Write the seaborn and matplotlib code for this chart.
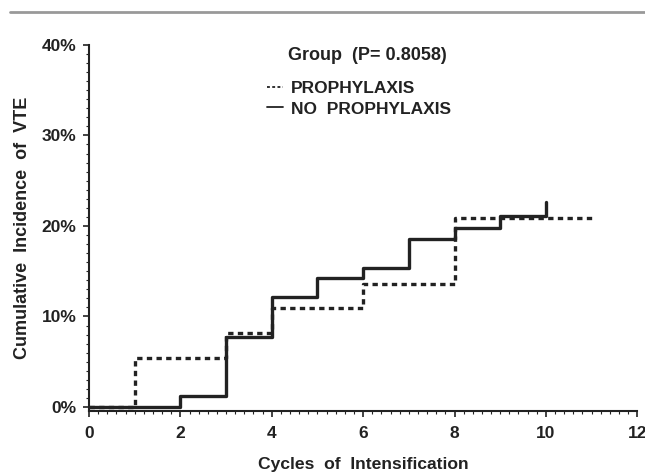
import numpy as np
import pandas as pd
import matplotlib
matplotlib.use('Agg')
import matplotlib.pyplot as plt
import seaborn as sns
from matplotlib.lines import Line2D
from matplotlib.ticker import MultipleLocator, FuncFormatter

# step data (cumulative incidence, %)
proph_x = [0, 1, 3, 4, 6, 8, 11]
proph_y = [0, 5.4, 8.2, 10.9, 13.6, 20.9, 20.9]
noproph_x = [0, 2, 3, 4, 5, 6, 7, 8, 9, 10, 10]
noproph_y = [0, 1.2, 7.7, 12.1, 14.3, 15.4, 18.6, 19.8, 21.1, 21.1, 22.6]

df_p = pd.DataFrame({'cycle': proph_x, 'inc': proph_y})
df_n = pd.DataFrame({'cycle': noproph_x, 'inc': noproph_y})

sns.set_style('ticks')
plt.rcParams['font.family'] = ['Liberation Sans', 'DejaVu Sans']
plt.rcParams['font.weight'] = 'bold'
ink = '#222222'

fig = plt.figure(figsize=(6.45, 4.73), dpi=100)
ax = fig.add_axes([0.138, 0.131, 0.850, 0.774])

sns.lineplot(data=df_p, x='cycle', y='inc', ax=ax, estimator=None, sort=False,
             drawstyle='steps-post', color=ink, linewidth=2.4,
             linestyle=(0, (1.6, 1.3)), label='PROPHYLAXIS')
sns.lineplot(data=df_n, x='cycle', y='inc', ax=ax, estimator=None, sort=False,
             drawstyle='steps-post', color=ink, linewidth=2.4,
             label='NO  PROPHYLAXIS')

ax.set_xlim(0, 12)
ax.set_ylim(-0.45, 40)
ax.xaxis.set_major_locator(MultipleLocator(2))
ax.xaxis.set_minor_locator(MultipleLocator(0.2))
ax.yaxis.set_major_locator(MultipleLocator(10))
ax.yaxis.set_minor_locator(MultipleLocator(1))
ax.yaxis.set_major_formatter(FuncFormatter(lambda v, p: f'{v:.0f}%'))
ax.tick_params(which='major', length=4, width=1.2, colors=ink, labelsize=12.5, pad=5)
ax.tick_params(axis='x', which='major', pad=7)
ax.tick_params(which='minor', length=2.5, width=0.8, colors=ink)
for lab in ax.get_xticklabels() + ax.get_yticklabels():
    lab.set_fontweight('bold')

for s in ['top', 'right']:
    ax.spines[s].set_visible(False)
for s in ['left', 'bottom']:
    ax.spines[s].set_color(ink)
    ax.spines[s].set_linewidth(1.5)

ax.set_xlabel('Cycles  of  Intensification', fontsize=12.6, fontweight='bold',
              color=ink, labelpad=11)
ax.set_ylabel('Cumulative  Incidence  of  VTE', fontsize=13, fontweight='bold',
              color=ink, labelpad=8)

# legend title drawn separately so its gap to the entries can be matched
ax.text(0.507, 0.972, 'Group  (P= 0.8058)', transform=ax.transAxes,
        ha='center', va='center', fontsize=13, fontweight='bold', color=ink)
leg = ax.legend(loc='upper left', bbox_to_anchor=(0.296, 0.944), frameon=False,
                handlelength=0.9, handletextpad=0.5, labelspacing=0.3,
                fontsize=12.5)
for t in leg.get_texts():
    t.set_fontweight('bold')
    t.set_color(ink)
for h in leg.get_lines():
    h.set_linewidth(1.3)

fig.add_artist(Line2D([0.015, 1.0], [0.975, 0.975], color='#999999', linewidth=2))

fig.savefig('out.png', dpi=100)
